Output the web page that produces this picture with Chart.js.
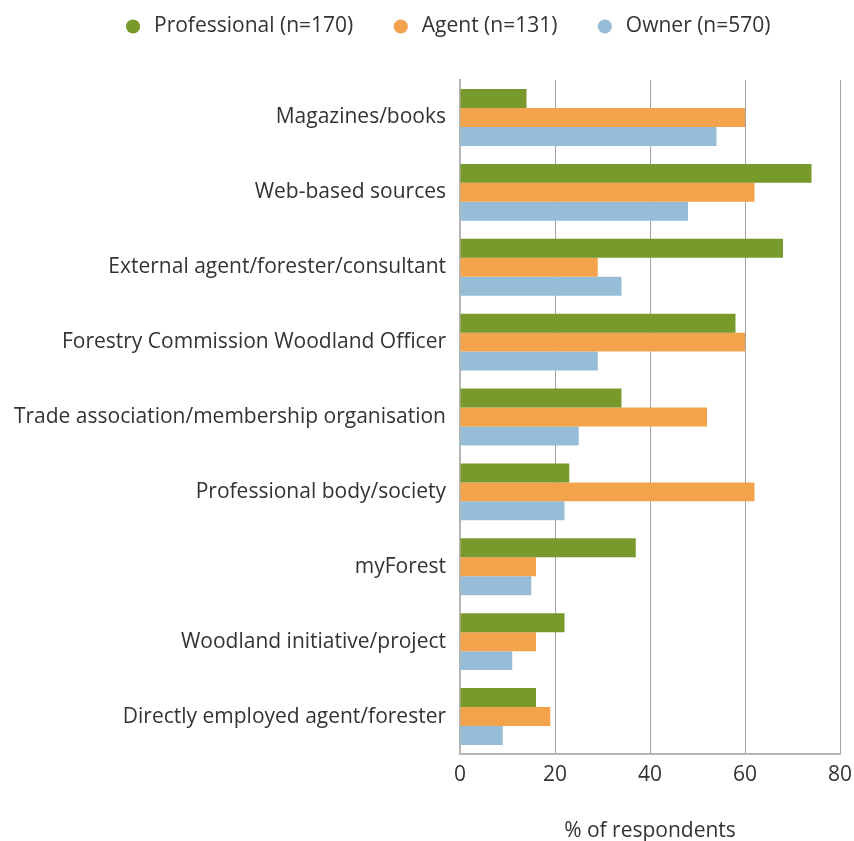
<!DOCTYPE html>
<html>
<head>
<meta charset="utf-8">
<script src="https://cdn.jsdelivr.net/npm/chart.js@4/dist/chart.umd.min.js"></script>
<style>
  html, body { margin: 0; padding: 0; background: #fff; }
</style>
</head>
<body>
<canvas id="chart" width="854" height="841"></canvas>
<script>
// Sources of information, % of respondents per group
const categories = [
    'Magazines/books',
    'Web-based sources',
    'External agent/forester/consultant',
    'Forestry Commission Woodland Officer',
    'Trade association/membership organisation',
    'Professional body/society',
    'myForest',
    'Woodland initiative/project',
    'Directly employed agent/forester'
];
const professional = [14, 74, 68, 58, 34, 23, 37, 22, 16];
const agent = [60, 62, 29, 60, 52, 62, 16, 16, 19];
const owner = [54, 48, 34, 29, 25, 22, 15, 11, 9];
const seriesNames = ['Professional (n=170)', 'Agent (n=131)', 'Owner (n=570)'];
const xTicks = [0, 20, 40, 60, 80];

const textColor = '#333';
const fontFamily = '"Open Sans", "Noto Sans", sans-serif';
const fontSize = 21;

// fixed legend height, and nudge the legend a bit to the right
const legendTweak = {
    id: 'legendTweak',
    beforeLayout(chart) {
        const legend = chart.legend;
        if (legend && !legend._patched) {
            const fit = legend.fit;
            legend.fit = function () {
                fit.call(this);
                this.height = 101;
            };
            legend._patched = true;
        }
    },
    afterLayout(chart) {
        chart.legend.left += 24;
        chart.legend.right += 24;
    }
};

new Chart(document.getElementById('chart'), {
    type: 'bar',
    data: {
        labels: categories,
        datasets: [
            { label: seriesNames[0], data: professional, backgroundColor: '#78992c' },
            { label: seriesNames[1], data: agent, backgroundColor: '#f2a34c' },
            { label: seriesNames[2], data: owner, backgroundColor: '#96bdd7' }
        ]
    },
    options: {
        indexAxis: 'y',
        responsive: false,
        animation: false,
        categoryPercentage: 0.76,
        barPercentage: 1.0,
        layout: {
            padding: { top: -21, left: 5, right: 14, bottom: 0 }
        },
        plugins: {
            legend: {
                position: 'top',
                labels: {
                    usePointStyle: true,
                    pointStyle: 'circle',
                    boxWidth: 24,
                    boxHeight: 10,
                    padding: 37,
                    color: textColor,
                    font: { family: fontFamily, size: fontSize }
                }
            },
            tooltip: { enabled: false }
        },
        scales: {
            x: {
                min: 0,
                max: 80,
                afterBuildTicks: (scale) => {
                    scale.ticks = xTicks.map(v => ({ value: v }));
                },
                afterFit: (scale) => {
                    scale.height = 87;
                    scale.paddingLeft = 0;
                    scale.paddingRight = 0;
                },
                grid: {
                    color: '#a3a3a3',
                    lineWidth: 1,
                    drawTicks: false
                },
                border: { display: true, color: '#b5b5b5', width: 2 },
                ticks: {
                    padding: 8,
                    color: textColor,
                    font: { family: fontFamily, size: fontSize }
                },
                title: {
                    display: true,
                    text: '% of respondents',
                    color: textColor,
                    padding: { top: 0, bottom: -3 },
                    font: { family: fontFamily, size: fontSize }
                }
            },
            y: {
                afterFit: (scale) => {
                    scale.width = 455;
                },
                grid: { display: false, drawTicks: false },
                border: { display: true, color: '#b5b5b5', width: 2 },
                ticks: {
                    padding: 14,
                    color: textColor,
                    font: { family: fontFamily, size: fontSize }
                }
            }
        }
    },
    plugins: [legendTweak]
});
</script>
</body>
</html>
